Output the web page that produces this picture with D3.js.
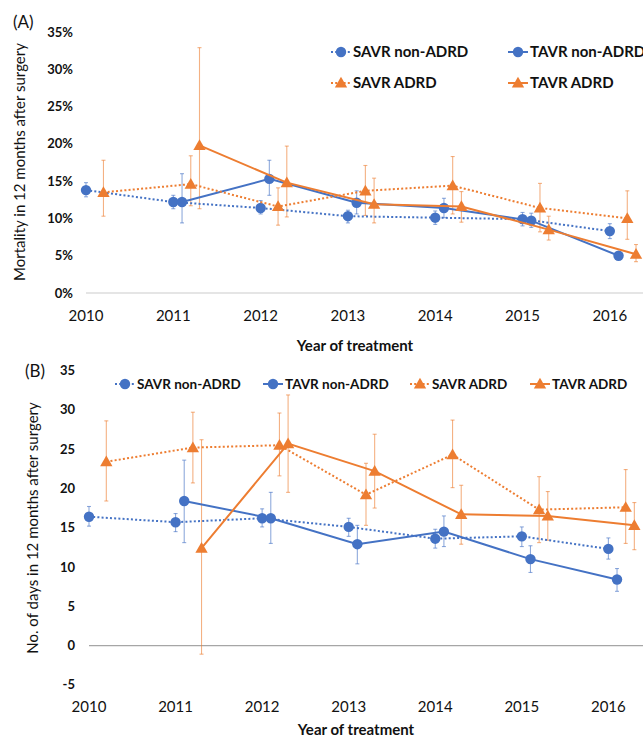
<!DOCTYPE html>
<html>
<head>
  <meta charset="utf-8">
  <title>Mortality and days after surgery</title>
  <script src="https://d3js.org/d3.v7.min.js"></script>
  <style>
    body { margin: 0; background: #fff; }
    svg { display: block; font-family: Lato, "Open Sans", sans-serif; }
    .tick-y { font-weight: bold; font-size: 13px; fill: #111; }
    .tick-x { font-size: 15px; fill: #111; }
    .title-x { font-weight: bold; font-size: 15px; fill: #111; }
    .title-y { font-size: 15px; fill: #111; }
    .legend { font-weight: bold; fill: #111; }
  </style>
</head>
<body>
<svg width="643" height="740"></svg>
<script>
  const years = [2010, 2011, 2012, 2013, 2014, 2015, 2016];
  const seriesNames = ['SAVR non-ADRD', 'TAVR non-ADRD', 'SAVR ADRD', 'TAVR ADRD'];

  // (A) mortality in 12 months after surgery, %  (null = no value)
  const mortSavrNon   = [13.8, 12.2, 11.4, 10.3, 10.1, 9.9, 8.3];
  const mortSavrNonLo = [12.9, 11.3, 10.6, 9.4, 9.2, 9.0, 7.3];
  const mortSavrNonHi = [14.8, 13.1, 12.4, 11.1, 11.0, 10.8, 9.3];
  const mortTavrNon   = [null, 12.2, 15.3, 12.1, 11.4, 9.7, 5.0];
  const mortTavrNonLo = [null, 9.4, 13.1, 10.6, 10.1, 8.8, 4.7];
  const mortTavrNonHi = [null, 16.0, 17.8, 13.7, 12.7, 10.7, 5.3];
  const mortSavrAd    = [13.5, 14.6, 11.6, 13.7, 14.4, 11.4, 10.0];
  const mortSavrAdLo  = [10.3, 11.7, 9.1, 10.4, 10.6, 8.2, 7.2];
  const mortSavrAdHi  = [17.8, 18.4, 14.1, 17.1, 18.3, 14.7, 13.7];
  const mortTavrAd    = [null, 19.8, 14.8, 11.9, 11.6, 8.5, 5.2];
  const mortTavrAdLo  = [null, 11.3, 10.2, 9.4, 9.5, 7.1, 4.2];
  const mortTavrAdHi  = [null, 32.9, 19.7, 15.4, 13.6, 10.3, 6.5];
  const mortTicks = [0, 5, 10, 15, 20, 25, 30, 35];

  // (B) number of days in 12 months after surgery
  const daysSavrNon   = [16.4, 15.7, 16.2, 15.1, 13.6, 13.9, 12.3];
  const daysSavrNonLo = [15.2, 14.5, 15.1, 13.9, 12.4, 12.6, 11.0];
  const daysSavrNonHi = [17.7, 16.8, 17.4, 16.2, 14.8, 15.1, 13.7];
  const daysTavrNon   = [null, 18.4, 16.2, 12.9, 14.5, 11.0, 8.4];
  const daysTavrNonLo = [null, 13.1, 13.0, 10.4, 12.6, 9.3, 6.9];
  const daysTavrNonHi = [null, 23.6, 19.5, 15.3, 16.5, 12.7, 9.8];
  const daysSavrAd    = [23.4, 25.2, 25.5, 19.2, 24.3, 17.3, 17.6];
  const daysSavrAdLo  = [18.4, 20.7, 21.6, 15.3, 20.1, 13.1, 13.0];
  const daysSavrAdHi  = [28.6, 29.7, 29.6, 23.2, 28.7, 21.5, 22.4];
  const daysTavrAd    = [null, 12.4, 25.7, 22.2, 16.7, 16.5, 15.3];
  const daysTavrAdLo  = [null, -1.1, 19.5, 17.5, 12.9, 13.4, 12.2];
  const daysTavrAdHi  = [null, 26.2, 31.9, 26.9, 20.4, 19.6, 18.2];
  const daysTicks = [-5, 0, 5, 10, 15, 20, 25, 30, 35];

  const blue = '#4472C4', orange = '#ED7D31';
  const styles = [
    { color: blue, dash: '2,2.2', shape: 'circle', offset: 0 },
    { color: blue, dash: null, shape: 'circle', offset: 0.1 },
    { color: orange, dash: '2,2.2', shape: 'triangle', offset: 0.2 },
    { color: orange, dash: null, shape: 'triangle', offset: 0.3 }
  ];

  function build(vals, lo, hi) {
    return years.map((yr, i) => ({ yr, v: vals[i], lo: lo[i], hi: hi[i] })).filter(d => d.v != null);
  }

  const svg = d3.select('svg');

  function drawMarker(g, shape, x, y, color) {
    if (shape === 'circle') {
      g.append('circle').attr('cx', x).attr('cy', y).attr('r', 5.2).attr('fill', color);
    } else {
      g.append('path')
        .attr('d', d3.symbol(d3.symbolTriangle, 66)())
        .attr('transform', `translate(${x},${y + 1})`)
        .attr('fill', color);
    }
  }

  function panel(cfg) {
    const x = d3.scaleLinear().domain([2010, cfg.xMax]).range([cfg.left, 643]);
    const y = d3.scaleLinear().domain([cfg.yMin, cfg.yMax]).range([cfg.bottom, cfg.top]);
    const g = svg.append('g');

    // zero line
    g.append('line')
      .attr('x1', cfg.left).attr('x2', 643)
      .attr('y1', y(0)).attr('y2', y(0))
      .attr('stroke', cfg.zeroColor).attr('stroke-width', 1.3);

    // y ticks
    g.selectAll('.tick-y').data(cfg.ticks).enter().append('text')
      .attr('class', 'tick-y')
      .attr('x', cfg.tickRight).attr('y', d => y(d))
      .attr('dy', '0.35em').attr('text-anchor', 'end')
      .text(cfg.fmt);

    // x ticks
    g.selectAll('.tick-x').data(years).enter().append('text')
      .attr('class', 'tick-x')
      .attr('x', d => x(d)).attr('y', cfg.xLabelY)
      .attr('text-anchor', 'middle')
      .text(d => d);

    g.append('text').attr('class', 'title-x')
      .attr('x', cfg.xTitleX).attr('y', cfg.xTitleY)
      .attr('text-anchor', 'middle').text('Year of treatment');

    g.append('text').attr('class', 'title-y')
      .attr('transform', `translate(${cfg.yTitleX},${cfg.yTitleY}) rotate(-90)`)
      .attr('text-anchor', 'middle').text(cfg.yTitle);

    g.append('text').attr('x', cfg.tagX).attr('y', cfg.tagY)
      .attr('font-size', 17).attr('fill', '#111').text(cfg.tag);

    // error bars
    cfg.series.forEach((s, k) => {
      const st = styles[k];
      const eg = g.append('g').attr('stroke', st.color).attr('stroke-opacity', 0.6).attr('stroke-width', 1.1);
      s.forEach(d => {
        const cx = x(d.yr + st.offset);
        eg.append('line').attr('x1', cx).attr('x2', cx).attr('y1', y(d.lo)).attr('y2', y(d.hi));
        eg.append('line').attr('x1', cx - 2).attr('x2', cx + 2).attr('y1', y(d.lo)).attr('y2', y(d.lo));
        eg.append('line').attr('x1', cx - 2).attr('x2', cx + 2).attr('y1', y(d.hi)).attr('y2', y(d.hi));
      });
    });

    // lines + markers
    cfg.series.forEach((s, k) => {
      const st = styles[k];
      const line = d3.line().x(d => x(d.yr + st.offset)).y(d => y(d.v));
      g.append('path').datum(s)
        .attr('d', line).attr('fill', 'none')
        .attr('stroke', st.color).attr('stroke-width', 2)
        .attr('stroke-dasharray', st.dash);
      s.forEach(d => drawMarker(g, st.shape, x(d.yr + st.offset), y(d.v), st.color));
    });

    // legend
    cfg.legend.forEach((p, k) => {
      const st = styles[k];
      g.append('line')
        .attr('x1', p[0]).attr('x2', p[0] + 20).attr('y1', p[1]).attr('y2', p[1])
        .attr('stroke', st.color).attr('stroke-width', 2).attr('stroke-dasharray', st.dash);
      drawMarker(g, st.shape, p[0] + 10, p[1], st.color);
      g.append('text').attr('class', 'legend')
        .attr('font-size', cfg.legendSize)
        .attr('x', p[0] + 22).attr('y', p[1]).attr('dy', '0.36em')
        .text(seriesNames[k]);
    });
  }

  panel({
    left: 86, xMax: 2016.38, top: 32, bottom: 293, yMin: 0, yMax: 35,
    ticks: mortTicks, fmt: d => d + '%', tickRight: 73, zeroColor: '#dcdcdc',
    xLabelY: 321, xTitleX: 355, xTitleY: 351,
    yTitleX: 25, yTitleY: 162, yTitle: 'Mortality in 12 months after surgery',
    tag: '(A)', tagX: 13, tagY: 28,
    series: [
      build(mortSavrNon, mortSavrNonLo, mortSavrNonHi),
      build(mortTavrNon, mortTavrNonLo, mortTavrNonHi),
      build(mortSavrAd, mortSavrAdLo, mortSavrAdHi),
      build(mortTavrAd, mortTavrAdLo, mortTavrAdHi)
    ],
    legendSize: 15,
    legend: [[331, 52], [508, 52], [331, 83], [508, 83]]
  });

  panel({
    left: 89, xMax: 2016.4, top: 370.6, bottom: 684.8, yMin: -5, yMax: 35,
    ticks: daysTicks, fmt: d => d, tickRight: 75, zeroColor: '#a6a6a6',
    xLabelY: 712, xTitleX: 356, xTitleY: 735,
    yTitleX: 38, yTitleY: 528, yTitle: 'No. of days in 12 months after surgery',
    tag: '(B)', tagX: 25, tagY: 377,
    series: [
      build(daysSavrNon, daysSavrNonLo, daysSavrNonHi),
      build(daysTavrNon, daysTavrNonLo, daysTavrNonHi),
      build(daysSavrAd, daysSavrAdLo, daysSavrAdHi),
      build(daysTavrAd, daysTavrAdLo, daysTavrAdHi)
    ],
    legendSize: 13.5,
    legend: [[115, 384], [263, 384], [410, 384], [530, 384]]
  });
</script>
</body>
</html>
